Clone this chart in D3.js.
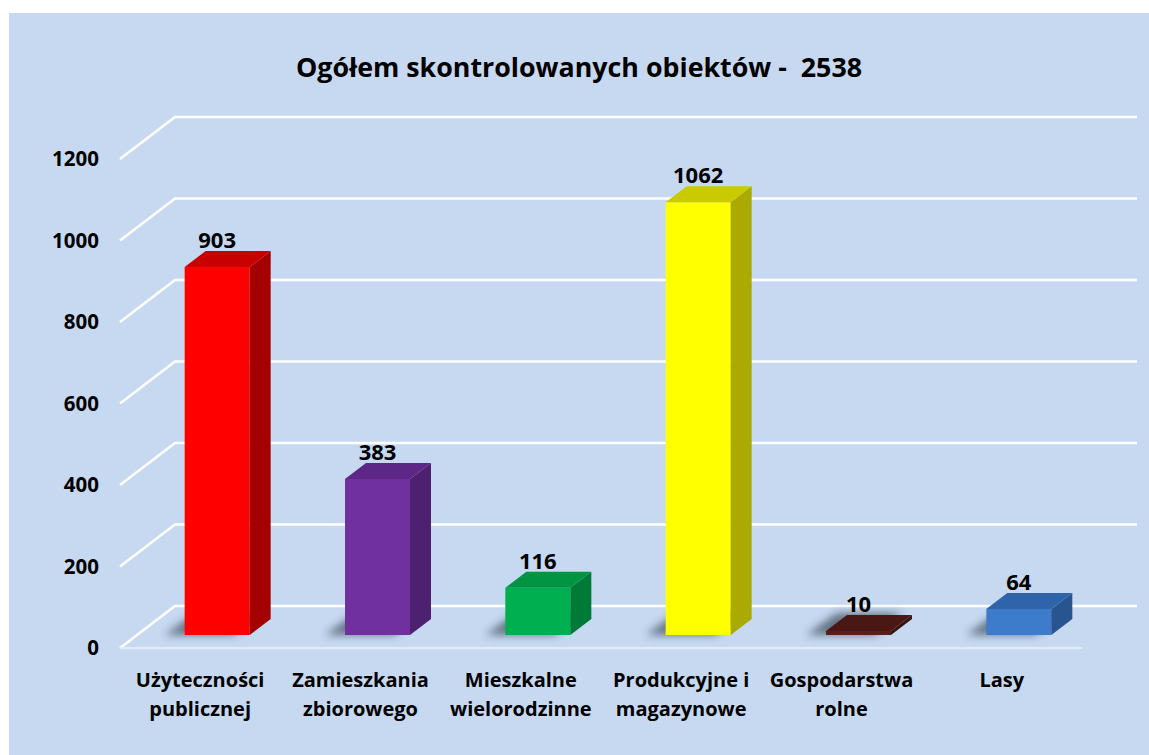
<!DOCTYPE html>
<html>
<head>
<meta charset="utf-8">
<script src="https://cdn.jsdelivr.net/npm/d3@7"></script>
<style>
html,body{margin:0;padding:0;background:#fff;}
svg{display:block;}
text{font-family:"Open Sans",Lato,sans-serif;font-weight:bold;fill:#000;}
</style>
</head>
<body>
<svg id="chart" width="1149" height="755"></svg>
<script>
const title = "Ogółem skontrolowanych obiektów -  2538";
const categories = ["Użyteczności publicznej","Zamieszkania zbiorowego","Mieszkalne wielorodzinne","Produkcyjne i magazynowe","Gospodarstwa rolne","Lasy"];
const labelLines = [["Użyteczności","publicznej"],["Zamieszkania","zbiorowego"],["Mieszkalne","wielorodzinne"],["Produkcyjne i","magazynowe"],["Gospodarstwa","rolne"],["Lasy"]];
const values = [903, 383, 116, 1062, 10, 64];
const tickValues = [0, 200, 400, 600, 800, 1000, 1200];
const frontColors = ["#FF0000","#7030A0","#00B050","#FFFF00","#5A1E1A","#3C7CCB"];
const sideColors  = ["#A50000","#4E2070","#007A37","#AAAA00","#3A1210","#28558F"];
const topColors   = ["#C80000","#5D2787","#009443","#CACA00","#4A1814","#2F64AA"];

const svg = d3.select("#chart");
const defs = svg.append("defs");
defs.append("filter").attr("id","blur").attr("x","-50%").attr("y","-50%").attr("width","200%").attr("height","200%")
  .append("feGaussianBlur").attr("stdDeviation",4);
defs.append("filter").attr("id","gblur").append("feGaussianBlur").attr("stdDeviation",0.6);

// background
svg.append("rect").attr("x",9).attr("y",13).attr("width",1140).attr("height",742).attr("fill","#C6D9F1");

// scales
const y = d3.scaleLinear().domain([0,1200]).range([648,159]);
const x = d3.scaleBand().domain(categories).range([120,1082]).paddingInner(0).paddingOuter(0);
const depthX = 55, depthY = -42;      // floor depth
const barOffX = 17, barOffY = -13;    // bar front face offset from floor front
const barDX = 21, barDY = -16;        // bar depth
const barW = 65;

// gridlines (side wall diagonal + back wall)
const grid = svg.append("g").attr("filter","url(#gblur)");
tickValues.forEach(v => {
  const yf = y(v), yb = y(v) + depthY;
  grid.append("path")
    .attr("d", `M${120},${yf}L${120+depthX},${yb}L${1137},${yb}`)
    .attr("fill","none").attr("stroke","#FFFFFF").attr("stroke-width",2.6);
});
// floor front edge
svg.append("line").attr("x1",120).attr("x2",1082).attr("y1",y(0)).attr("y2",y(0))
  .attr("stroke","#E2ECF8").attr("stroke-width",2);

// y axis labels
svg.append("g").selectAll("text").data(tickValues).join("text")
  .attr("x",99).attr("y",d=>y(d)).attr("dy","0.36em").attr("text-anchor","end")
  .attr("font-size",20.5).text(d=>d);

// bars
const bars = svg.append("g");
categories.forEach((c,i) => {
  const v = values[i];
  const x0 = x(c) + x.bandwidth()/2 - barW/2 + barOffX;
  const x1 = x0 + barW;
  const yb = y(0) + barOffY;
  const yt = y(v) + barOffY;
  // shadow
  bars.append("path")
    .attr("d", `M${x0-4},${yb}L${x0-4+barDX+10},${yb+barDY-6}L${x1+barDX+6},${yb+barDY-6}L${x1},${yb}Z`)
    .attr("transform","translate(-16,0)")
    .attr("fill","#2E3A48").attr("opacity",0.65).attr("filter","url(#blur)");
  // front
  bars.append("rect").attr("x",x0).attr("y",yt).attr("width",barW).attr("height",yb-yt).attr("fill",frontColors[i]);
  // side
  bars.append("path").attr("d",`M${x1},${yt}L${x1+barDX},${yt+barDY}L${x1+barDX},${yb+barDY}L${x1},${yb}Z`).attr("fill",sideColors[i]);
  // top
  bars.append("path").attr("d",`M${x0},${yt}L${x0+barDX},${yt+barDY}L${x1+barDX},${yt+barDY}L${x1},${yt}Z`).attr("fill",topColors[i]);
  // value label
  bars.append("text").attr("x",(x0+x1)/2).attr("y",yt+barDY-3).attr("text-anchor","middle")
    .attr("font-size",22).text(v);
});

// category labels
const cl = svg.append("g");
categories.forEach((c,i) => {
  const t = cl.append("text").attr("x",x(c)+x.bandwidth()/2).attr("y",687).attr("text-anchor","middle").attr("font-size",20);
  labelLines[i].forEach((ln,j) => t.append("tspan").attr("x",x(c)+x.bandwidth()/2).attr("dy",j===0?0:29).text(ln));
});

// title
svg.append("text").attr("x",579).attr("y",77).attr("text-anchor","middle").attr("font-size",26.8)
  .style("white-space","pre").attr("xml:space","preserve").text(title);
</script>
</body>
</html>
